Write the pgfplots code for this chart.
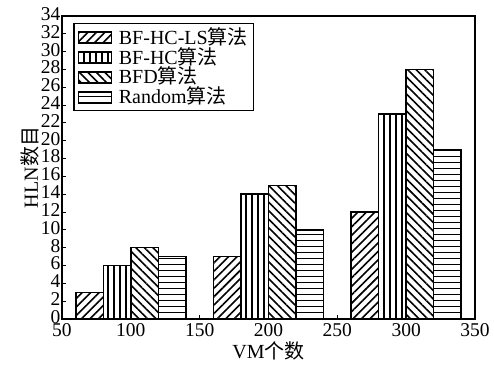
\documentclass[border=0pt]{standalone}
\usepackage{fontspec}
\setmainfont{Liberation Serif}
\newfontfamily\cjk{Noto Sans CJK SC}
\usepackage{pgfplots}
\pgfplotsset{compat=1.18}
\usetikzlibrary{patterns.meta}
\pgfplotsset{
  mylegend/.style={legend image code/.code={\draw[##1] (0pt,-6pt) rectangle (33pt,5pt); \path (38pt,0pt);}},
  mybar/.style={ybar, bar width=20, bar shift=0pt, draw=black, line width=1.5pt, fill=white, mylegend},
}
\begin{document}
\fontsize{20}{22}\selectfont
\begin{tikzpicture}
\begin{axis}[
  scale only axis, width=413pt, height=303pt,
  xmin=50, xmax=350, ymin=0, ymax=34,
  xtick={50,100,...,350}, ytick={0,2,...,34},
  tick align=inside, major tick length=4pt,
  xtick pos=bottom, ytick pos=left,
  tick style={line width=1pt, black},
  axis line style={line width=1.5pt},
  /pgf/number format/assume math mode=true,
  tick label style={font=\fontsize{19.5}{19.5}\selectfont, inner sep=0.5pt},
  yticklabel style={xshift=-1pt, yshift=2pt},
  xticklabel style={yshift=-4pt},
  label style={font=\fontsize{20}{20}\selectfont},
  xlabel={VM{\cjk 个数}},
  ylabel={HLN{\cjk 数目}},
  xlabel style={yshift=3pt},
  ylabel style={yshift=-6pt},
  legend style={at={(rel axis cs:0.027,0.977)}, anchor=north west, draw=black, line width=1.5pt,
    font=\fontsize{20}{20}\selectfont, row sep=-3pt, inner xsep=4pt, inner ysep=2pt,
    nodes={inner sep=1.5pt}},
  legend cell align=left,
]
\addplot[mybar, pattern={Lines[angle=45,distance=6pt,line width=1.6pt]}] coordinates {(70,3) (170,7) (270,12)};
\addplot[mybar, pattern={Lines[angle=90,distance=6pt,line width=1.6pt]}] coordinates {(90,6) (190,14) (290,23)};
\addplot[mybar, pattern={Lines[angle=-45,distance=6pt,line width=1.6pt]}] coordinates {(110,8) (210,15) (310,28)};
\addplot[mybar, pattern={Lines[angle=0,distance=6pt,line width=1.6pt]}] coordinates {(130,7) (230,10) (330,19)};
\legend{BF-HC-LS{\cjk 算法}, BF-HC{\cjk 算法}, BFD{\cjk 算法}, Random{\cjk 算法}}
\end{axis}
\path (current axis.south west) ++(-62pt,-46pt) coordinate (bl);
\path (current axis.north east) ++(19pt,16pt) coordinate (tr);
\path (bl) rectangle (tr);
\end{tikzpicture}
\end{document}
